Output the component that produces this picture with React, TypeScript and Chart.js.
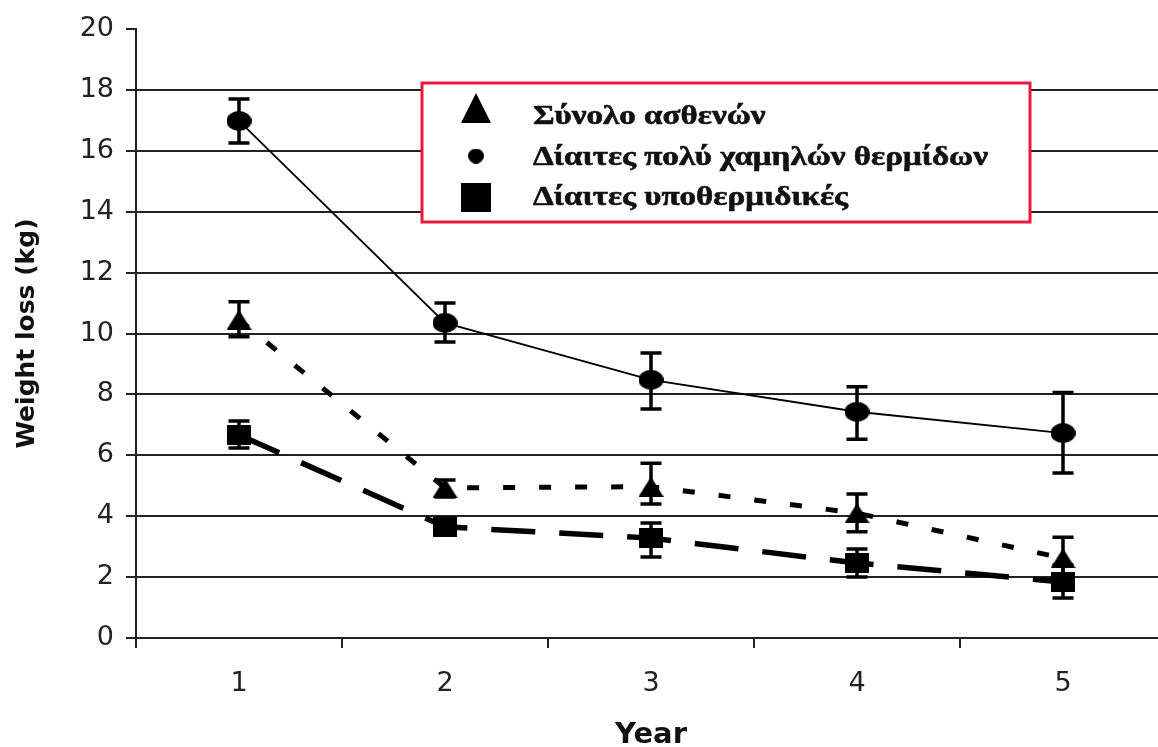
import React, { useEffect, useRef } from 'react';
import { Chart, registerables } from 'chart.js';

Chart.register(...registerables);

// ---- data ----
const years = ['1', '2', '3', '4', '5'];

const totalLabel = 'Σύνολο ασθενών';
const totalMean = [10.45, 4.93, 4.97, 4.1, 2.62];
const totalLow = [9.89, 4.63, 4.4, 3.49, 2.0];
const totalHigh = [11.04, 5.19, 5.74, 4.73, 3.31];

const vlcdLabel = 'Δίαιτες πολύ χαμηλών θερμίδων';
const vlcdMean = [16.98, 10.35, 8.48, 7.43, 6.73];
const vlcdLow = [16.26, 9.72, 7.52, 6.53, 5.42];
const vlcdHigh = [17.7, 11.0, 9.36, 8.25, 8.06];

const hypoLabel = 'Δίαιτες υποθερμιδικές';
const hypoMean = [6.67, 3.65, 3.28, 2.46, 1.84];
const hypoLow = [6.24, 3.38, 2.66, 2.0, 1.31];
const hypoHigh = [7.13, 3.94, 3.78, 2.92, 2.4];

const yMin = 0;
const yMax = 20;
const yStep = 2;

const xTitle = 'Year';
const yTitle = 'Weight loss (kg)';

// ---- helpers ----
function makeMarker(shape: string, w: number, h: number): HTMLCanvasElement {
  const c = document.createElement('canvas');
  c.width = w;
  c.height = h;
  const g = c.getContext('2d')!;
  g.fillStyle = '#000';
  g.beginPath();
  if (shape === 'circle') {
    g.ellipse(w / 2, h / 2, w / 2, h / 2, 0, 0, Math.PI * 2);
  } else if (shape === 'triangle') {
    g.moveTo(w / 2, 0);
    g.lineTo(w, h);
    g.lineTo(0, h);
    g.closePath();
  } else {
    g.rect(0, 0, w, h);
  }
  g.fill();
  return c;
}

const errorBarPlugin = {
  id: 'errorBars',
  afterDatasetsDraw(chart: any, _args: any, opts: any) {
    const { ctx } = chart;
    const x = chart.scales.x;
    const y = chart.scales.y;
    const cap = opts.capWidth || 20;
    ctx.save();
    ctx.strokeStyle = '#000';
    ctx.lineWidth = opts.lineWidth || 3;
    ctx.lineCap = 'butt';
    chart.data.datasets.forEach((ds: any) => {
      ds.data.forEach((_v: number, j: number) => {
        const px = x.getPixelForValue(j);
        const yl = y.getPixelForValue(ds.errLow[j]);
        const yh = y.getPixelForValue(ds.errHigh[j]);
        ctx.beginPath();
        ctx.moveTo(px, yl);
        ctx.lineTo(px, yh);
        ctx.moveTo(px - cap / 2, yl);
        ctx.lineTo(px + cap / 2, yl);
        ctx.moveTo(px - cap / 2, yh);
        ctx.lineTo(px + cap / 2, yh);
        ctx.stroke();
      });
    });
    ctx.restore();
  },
};

const boxLegendPlugin = {
  id: 'boxLegend',
  afterDraw(chart: any, _args: any, opts: any) {
    const { ctx } = chart;
    ctx.save();
    ctx.fillStyle = '#fff';
    ctx.fillRect(opts.left, opts.top, opts.width, opts.height);
    ctx.strokeStyle = opts.borderColor;
    ctx.lineWidth = opts.borderWidth;
    ctx.strokeRect(opts.left, opts.top, opts.width, opts.height);
    ctx.font = opts.font;
    ctx.fillStyle = '#111';
    ctx.strokeStyle = '#111';
    ctx.lineWidth = 0.6;
    ctx.textBaseline = 'alphabetic';
    ctx.textAlign = 'left';
    const widths = chart.data.datasets.map((d: any) => ctx.measureText(d.label).width);
    const sx = opts.textWidth / Math.max(...widths);
    chart.data.datasets.forEach((ds: any, i: number) => {
      const m: HTMLCanvasElement = ds.legendMarker;
      ctx.drawImage(m, opts.markerX - m.width / 2, opts.markerY[i] - m.height / 2);
      ctx.save();
      ctx.translate(opts.textX, opts.baselines[i]);
      ctx.scale(sx, 1);
      ctx.fillText(ds.label, 0, 0);
      ctx.strokeText(ds.label, 0, 0);
      ctx.restore();
    });
    ctx.restore();
  },
};

export default function App() {
  const ref = useRef<HTMLCanvasElement | null>(null);

  useEffect(() => {
    document.body.style.margin = '0';
    const canvas = ref.current!;
    const triPt = makeMarker('triangle', 25, 20);
    const cirPt = makeMarker('circle', 25, 20);
    const sqPt = makeMarker('rect', 24, 20);
    const triLg = makeMarker('triangle', 30, 30);
    const cirLg = makeMarker('circle', 16, 15);
    const sqLg = makeMarker('rect', 30, 29);

    const tickFont = { family: '"DejaVu Sans", sans-serif', size: 27 };

    const chart = new Chart(canvas, {
      type: 'line',
      data: {
        labels: years,
        datasets: [
          {
            label: totalLabel,
            data: totalMean,
            errLow: totalLow,
            errHigh: totalHigh,
            legendMarker: triLg,
            borderColor: '#000',
            backgroundColor: '#000',
            borderWidth: 5,
            borderDash: [12, 24],
            pointStyle: triPt,
            pointRadius: 10,
            tension: 0,
          } as any,
          {
            label: vlcdLabel,
            data: vlcdMean,
            errLow: vlcdLow,
            errHigh: vlcdHigh,
            legendMarker: cirLg,
            borderColor: '#000',
            backgroundColor: '#000',
            borderWidth: 1.8,
            pointStyle: cirPt,
            pointRadius: 10,
            tension: 0,
          } as any,
          {
            label: hypoLabel,
            data: hypoMean,
            errLow: hypoLow,
            errHigh: hypoHigh,
            legendMarker: sqLg,
            borderColor: '#000',
            backgroundColor: '#000',
            borderWidth: 5.5,
            borderDash: [44, 24],
            pointStyle: sqPt,
            pointRadius: 10,
            tension: 0,
          } as any,
        ],
      },
      options: {
        responsive: false,
        animation: false,
        devicePixelRatio: 1,
        layout: { autoPadding: false, padding: { top: 29, left: 0, right: 0, bottom: 0 } },
        plugins: {
          legend: { display: false },
          tooltip: { enabled: false },
          errorBars: { capWidth: 21, lineWidth: 3.5 },
          boxLegend: {
            left: 422,
            top: 83,
            width: 608,
            height: 139,
            borderColor: '#e8193c',
            borderWidth: 3,
            font: 'bold 27px "Liberation Serif", serif',
            textX: 533,
            textWidth: 455,
            markerX: 476,
            markerY: [108, 156, 197],
            baselines: [124, 165, 205],
          },
        } as any,
        scales: {
          x: {
            type: 'category',
            offset: true,
            grid: {
              offset: true,
              drawOnChartArea: false,
              drawTicks: true,
              tickLength: 10,
              color: '#222',
              lineWidth: 2,
            },
            border: { color: '#222', width: 2 },
            ticks: { color: '#222', font: tickFont, padding: 20, maxRotation: 0 },
            title: {
              display: true,
              text: xTitle,
              color: '#111',
              font: { family: '"DejaVu Sans", sans-serif', size: 29, weight: 'bold', lineHeight: 1 },
              padding: { top: 0, bottom: -3 },
            },
            afterFit: (s: any) => {
              s.height = 747 - 638;
            },
          },
          y: {
            min: yMin,
            max: yMax,
            ticks: { stepSize: yStep, color: '#222', font: tickFont, padding: 12 },
            grid: {
              color: (c: any) => (c.tick && c.tick.value === yMax ? 'rgba(0,0,0,0)' : '#222'),
              tickColor: '#222',
              lineWidth: 2,
              tickLength: 10,
              drawTicks: true,
            },
            border: { color: '#222', width: 2 },
            title: {
              display: true,
              text: yTitle,
              color: '#111',
              font: { family: '"DejaVu Sans", sans-serif', size: 25, weight: 'bold', lineHeight: 1 },
              padding: { top: 15, bottom: 0 },
            },
            afterFit: (s: any) => {
              s.width = 136;
            },
          },
        },
      },
      plugins: [errorBarPlugin, boxLegendPlugin],
    } as any);

    return () => chart.destroy();
  }, []);

  return (
    <div style={{ width: 1158, height: 747, overflow: 'hidden', position: 'relative', background: '#fff' }}>
      <canvas ref={ref} width={1166} height={747} style={{ display: 'block', width: 1166, height: 747 }} />
    </div>
  );
}
